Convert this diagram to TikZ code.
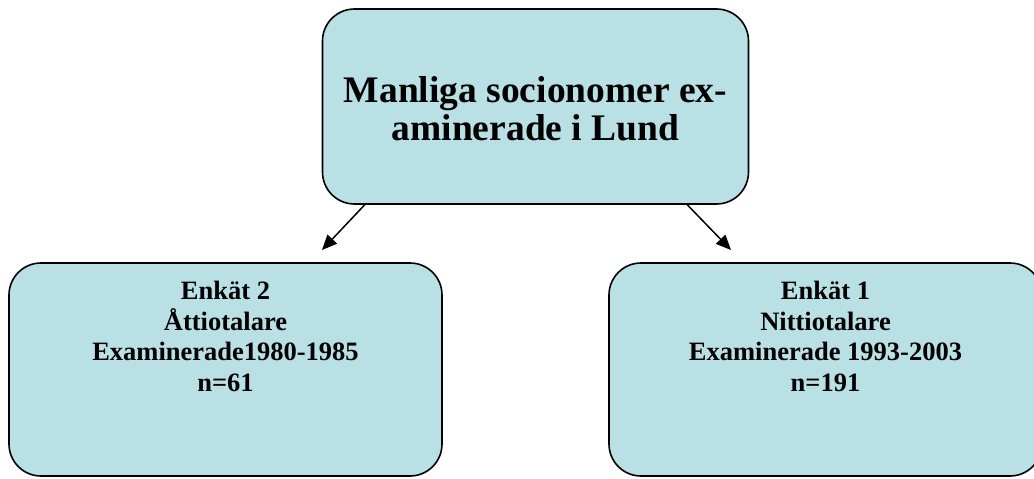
\documentclass[tikz,border=0pt]{standalone}
\usepackage{fontspec}
\setmainfont{Liberation Serif}
\usetikzlibrary{arrows.meta}
\definecolor{boxblue}{RGB}{185,224,228}
\tikzset{
	kast/.style={draw, line width=1.6pt, fill=boxblue, rounded corners=32pt, inner sep=0pt},
	rubrik/.style={font=\bfseries\fontsize{37.5}{38}\selectfont, align=center, inner sep=0pt},
	enktext/.style={font=\bfseries\fontsize{26.5}{30.5}\selectfont, align=center, inner sep=0pt, anchor=north},
	pil/.style={line width=1.5pt, -{Triangle[length=15pt,width=13pt]}}
}
\begin{document}
\begin{tikzpicture}[x=1pt, y=-1pt]
	\useasboundingbox (0,0) rectangle (1034,479);
	% huvudruta
	\node[kast, minimum width=426pt, minimum height=195pt] (man) at (535.5,106.5) {};
	\node[rubrik] (mantext) at ([yshift=-2pt]man.center) {Manliga socionomer ex-\\aminerade i Lund};
	% enkaterna
	\node[kast, minimum width=433pt, minimum height=213pt] (enk2) at (225.5,369.5) {};
	\node[kast, minimum width=433pt, minimum height=213pt] (enk1) at (825.5,369.5) {};
	\node[enktext] (enk2text) at ([yshift=-19pt]enk2.north) {Enkät 2\\Åttiotalare\\Examinerade1980-1985\\n=61};
	\node[enktext] (enk1text) at ([yshift=-19pt]enk1.north) {Enkät 1\\Nittiotalare\\Examinerade 1993-2003\\n=191};
	% pilar
	\coordinate (spets2) at (322,250);
	\coordinate (spets1) at (731,250);
	\draw[pil] ([xshift=43pt]man.south west) -- (spets2);
	\draw[pil] ([xshift=-62pt]man.south east) -- (spets1);
\end{tikzpicture}
\end{document}
